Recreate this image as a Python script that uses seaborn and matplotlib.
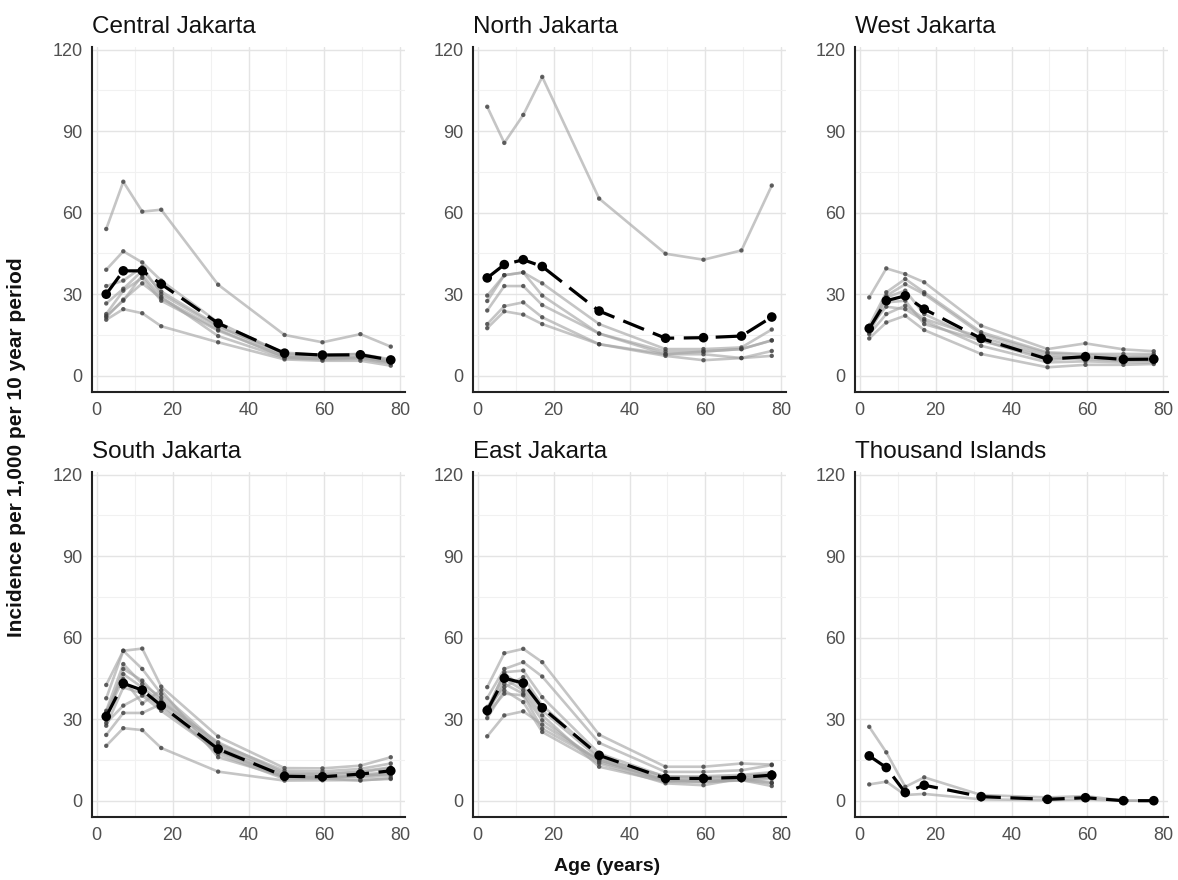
import matplotlib
matplotlib.use("Agg")
import matplotlib.pyplot as plt
import numpy as np
import pandas as pd
import seaborn as sns
from matplotlib.ticker import MultipleLocator

# Age-group midpoints (years)
AGE = [2.5, 7, 12, 17, 32, 49.5, 59.5, 69.5, 77.5]

# Incidence per 1,000 per 10-year period: one row per sub-district,
# plus the city-level total for each administrative city
CENTRAL_AREAS = [
    [54.0, 71.4, 60.4, 61.1, 33.5, 15.0, 12.3, 15.3, 10.7],
    [39.0, 45.8, 41.7, 35.0, 19.6, 8.0, 7.7, 8.0, 5.5],
    [20.6, 24.5, 23.0, 18.2, 12.3, 6.0, 5.5, 5.5, 3.7],
    [22.0, 27.6, 37.0, 29.0, 14.6, 6.5, 6.0, 6.2, 4.5],
    [26.6, 32.0, 38.6, 31.0, 18.4, 7.5, 7.0, 7.0, 5.0],
    [33.0, 35.0, 40.0, 30.0, 18.0, 8.5, 7.5, 8.0, 6.0],
    [22.7, 31.3, 36.0, 27.6, 16.6, 7.0, 6.5, 6.5, 4.8],
    [21.5, 28.0, 34.0, 28.5, 17.0, 6.8, 6.2, 6.8, 5.2],
]
CENTRAL_TOTAL = [30.0, 38.6, 38.6, 33.7, 19.3, 8.3, 7.6, 7.7, 5.8]

NORTH_AREAS = [
    [99.0, 85.7, 96.0, 110.0, 65.2, 44.9, 42.7, 46.1, 70.0],
    [29.5, 37.0, 38.0, 34.0, 19.0, 9.8, 9.8, 10.4, 17.0],
    [27.5, 37.0, 38.0, 29.5, 15.5, 8.9, 8.9, 9.8, 13.0],
    [24.0, 33.0, 33.0, 26.0, 15.5, 7.9, 8.9, 9.8, 13.0],
    [19.0, 25.6, 27.0, 21.5, 11.6, 7.9, 7.9, 6.5, 9.1],
    [17.5, 23.7, 22.5, 19.0, 11.6, 7.3, 5.7, 6.5, 7.3],
]
NORTH_TOTAL = [36.0, 40.9, 42.7, 40.2, 23.8, 13.8, 14.0, 14.6, 21.6]

WEST_AREAS = [
    [28.8, 39.5, 37.4, 34.4, 18.4, 9.8, 11.9, 9.7, 9.0],
    [18.4, 30.7, 35.6, 30.7, 16.0, 8.6, 8.0, 8.0, 8.0],
    [15.3, 22.7, 25.8, 20.9, 14.1, 7.4, 6.7, 6.7, 6.7],
    [13.7, 19.6, 22.1, 16.8, 8.0, 3.1, 4.0, 4.0, 4.3],
    [16.6, 29.4, 33.7, 30.0, 15.3, 8.2, 7.7, 7.0, 7.4],
    [17.8, 25.4, 24.5, 20.2, 11.0, 4.9, 5.3, 4.9, 4.9],
    [17.2, 28.8, 31.3, 22.7, 12.9, 6.7, 6.1, 5.5, 6.1],
    [16.0, 27.0, 27.6, 19.0, 13.0, 5.8, 6.7, 5.8, 5.5],
]
WEST_TOTAL = [17.4, 27.6, 29.4, 24.5, 13.7, 6.1, 7.0, 6.0, 6.1]

SOUTH_AREAS = [
    [42.6, 55.2, 56.0, 42.0, 23.6, 12.0, 11.9, 12.9, 16.0],
    [37.7, 55.2, 48.5, 39.3, 20.9, 11.0, 10.8, 11.7, 13.7],
    [33.1, 50.3, 43.0, 38.0, 20.2, 9.8, 9.6, 10.8, 12.3],
    [20.2, 26.7, 26.0, 19.4, 10.7, 7.4, 7.5, 7.6, 8.0],
    [24.2, 32.3, 32.3, 35.6, 17.2, 8.0, 8.0, 9.2, 9.8],
    [28.6, 35.0, 38.7, 33.1, 18.2, 8.6, 8.6, 8.6, 9.2],
    [29.7, 48.5, 44.2, 36.8, 19.6, 9.2, 9.0, 9.6, 10.5],
    [31.9, 44.8, 35.8, 40.7, 16.0, 8.8, 8.2, 7.4, 8.3],
    [27.6, 41.7, 39.5, 34.4, 18.4, 8.8, 8.6, 9.2, 10.0],
    [32.5, 46.6, 41.7, 36.2, 21.5, 10.2, 10.0, 10.5, 12.0],
]
SOUTH_TOTAL = [31.0, 43.2, 40.7, 35.0, 19.0, 9.0, 8.8, 9.8, 11.0]

EAST_AREAS = [
    [41.8, 54.3, 55.9, 51.0, 24.3, 12.5, 12.5, 13.7, 13.3],
    [37.8, 48.5, 51.0, 45.7, 21.3, 10.6, 10.6, 11.2, 13.1],
    [23.7, 31.4, 32.9, 28.0, 15.0, 7.5, 7.2, 7.5, 6.5],
    [30.4, 40.6, 36.3, 25.3, 13.7, 6.4, 5.7, 8.2, 6.6],
    [32.0, 39.4, 38.8, 26.5, 14.9, 7.3, 7.0, 7.6, 5.4],
    [33.2, 47.3, 47.9, 38.1, 17.4, 8.8, 8.5, 9.0, 10.0],
    [34.5, 41.8, 45.5, 35.1, 16.1, 8.2, 8.0, 8.5, 9.0],
    [32.0, 44.9, 40.6, 31.4, 12.5, 7.0, 6.8, 7.5, 8.0],
    [32.6, 43.0, 39.4, 29.6, 14.3, 7.5, 7.2, 8.0, 8.5],
    [33.9, 46.7, 41.8, 33.2, 15.5, 9.0, 9.0, 9.5, 10.5],
]
EAST_TOTAL = [33.2, 45.1, 43.3, 34.2, 16.7, 8.2, 8.2, 8.6, 9.4]

ISLANDS_AREAS = [
    [27.2, 17.8, 5.1, 8.6, 2.1, 1.2, 1.7, 0.0, 0.0],
    [6.0, 7.0, 2.1, 2.5, 0.5, 0.2, 0.5, 0.0, 0.0],
]
ISLANDS_TOTAL = [16.5, 12.2, 3.0, 5.7, 1.5, 0.5, 1.1, 0.0, 0.0]

REGIONS = ["Central Jakarta", "North Jakarta", "West Jakarta",
           "South Jakarta", "East Jakarta", "Thousand Islands"]
AREAS = [CENTRAL_AREAS, NORTH_AREAS, WEST_AREAS,
         SOUTH_AREAS, EAST_AREAS, ISLANDS_AREAS]
TOTALS = [CENTRAL_TOTAL, NORTH_TOTAL, WEST_TOTAL,
          SOUTH_TOTAL, EAST_TOTAL, ISLANDS_TOTAL]

# Long-format tables
area_rows, total_rows = [], []
for region, areas, total in zip(REGIONS, AREAS, TOTALS):
    for k, series in enumerate(areas):
        for a, v in zip(AGE, series):
            area_rows.append({"region": region, "area": k, "age": a, "incidence": v})
    for a, v in zip(AGE, total):
        total_rows.append({"region": region, "age": a, "incidence": v})
area_df = pd.DataFrame(area_rows)
total_df = pd.DataFrame(total_rows)

sns.set_theme(style="white")
plt.rcParams["font.family"] = ["Liberation Sans", "DejaVu Sans"]

W, H = 1178, 880
fig = plt.figure(figsize=(W / 100, H / 100), dpi=100)

col_left = [92, 473, 855]
row_top = [47, 472]
panel_w, panel_h = 313, 345

for i, region in enumerate(REGIONS):
    r, c = divmod(i, 3)
    ax = fig.add_axes([col_left[c] / W, 1 - (row_top[r] + panel_h) / H,
                       panel_w / W, panel_h / H])

    sub_a = area_df[area_df["region"] == region]
    sub_t = total_df[total_df["region"] == region]

    sns.lineplot(data=sub_a, x="age", y="incidence", units="area",
                 estimator=None, sort=False, color="#a6a6a6", alpha=0.65,
                 linewidth=1.9, legend=False, ax=ax, zorder=2)
    sns.scatterplot(data=sub_a, x="age", y="incidence", color="#3f3f3f",
                    s=10, edgecolor="none", alpha=0.8, legend=False,
                    ax=ax, zorder=3)
    sns.lineplot(data=sub_t, x="age", y="incidence", estimator=None,
                 sort=False, color="black", linewidth=2.3,
                 linestyle=(0, (7, 3)), legend=False, ax=ax, zorder=4)
    sns.scatterplot(data=sub_t, x="age", y="incidence", color="black",
                    s=48, edgecolor="none", legend=False, ax=ax, zorder=5)

    ax.set_xlim(-1.25, 81.25)
    ax.set_ylim(-6, 121)
    ax.xaxis.set_major_locator(MultipleLocator(20))
    ax.xaxis.set_minor_locator(MultipleLocator(10))
    ax.yaxis.set_major_locator(MultipleLocator(30))
    ax.yaxis.set_minor_locator(MultipleLocator(15))
    ax.grid(which="major", color="#e4e4e4", linewidth=1.0)
    ax.grid(which="minor", color="#f1f1f1", linewidth=0.8)
    ax.set_axisbelow(True)

    for side in ("top", "right"):
        ax.spines[side].set_visible(False)
    for side in ("left", "bottom"):
        ax.spines[side].set_visible(True)
        ax.spines[side].set_color("#222222")
        ax.spines[side].set_linewidth(1.5)

    ax.tick_params(which="both", length=0, labelsize=13,
                   labelcolor="#505050", pad=7)
    ax.set_xlabel("")
    ax.set_ylabel("")
    ax.set_title(region, loc="left", fontsize=17.5, pad=10, color="#111111")

fig.text(17 / W, 0.492, "Incidence per 1,000 per 10 year period",
         rotation=90, ha="center", va="center", fontsize=15,
         fontweight="bold", color="#111111")
fig.text(607 / W, 1 - 866 / H, "Age (years)", ha="center", va="center",
         fontsize=14, fontweight="bold", color="#111111")

fig.savefig("out.png", dpi=100, facecolor="white")
